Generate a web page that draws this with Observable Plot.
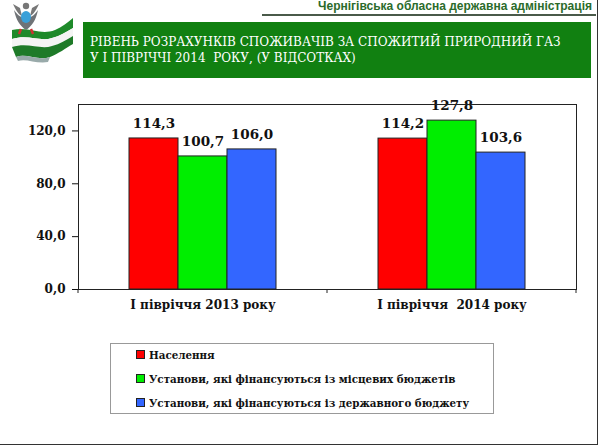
<!DOCTYPE html>
<html><head><meta charset="utf-8">
<script src="https://cdn.jsdelivr.net/npm/d3@7"></script>
<script src="https://cdn.jsdelivr.net/npm/@observablehq/plot@0.6"></script>
<style>
body{margin:0;background:#fff}
#wrap{position:relative;width:600px;height:446px;overflow:hidden;font-family:"DejaVu Serif",serif;background:#fff}
#hdr{position:absolute;right:8px;top:-1px;font-family:"Liberation Sans",Arial,sans-serif;font-weight:bold;font-size:12px;color:#2b6b2b;white-space:nowrap}
#hline{position:absolute;left:262px;top:14px;width:334px;height:2px;background:#4a5a4a}
#logo{position:absolute;left:0;top:0}
#title{position:absolute;left:83px;top:22px;width:508px;height:56px;background:#118011;color:#fff;font-family:"DejaVu Serif",serif;font-size:12px;line-height:16px;box-sizing:border-box;padding:12px 0 0 7px;white-space:nowrap}
#chart{position:absolute;left:0;top:0}
#legend{position:absolute;left:110px;top:343px;width:384px;height:71px;border:1px solid #999;box-sizing:border-box;font-family:"DejaVu Serif",serif;font-weight:bold;font-size:10.3px;color:#111}
.item{position:absolute;left:25px;white-space:nowrap}
.sw{display:inline-block;width:7px;height:7px;border:1px solid #222;margin-right:4px;vertical-align:0px}
#border{position:absolute;left:-2px;top:-2px;width:600px;height:447px;border-right:1.5px solid #333;border-bottom:1.5px solid #333;box-sizing:border-box}
</style></head><body>
<div id="wrap">
  <svg id="logo" width="80" height="80" viewBox="0 0 80 80">
    <path d="M12,30 C30,26 40,36 55,30 C62,27 68,22 73,18 L73,28 C66,32 60,36 52,38 C40,42 28,34 12,39 Z" fill="#1e8a2a"/>
    <path d="M12,39 C28,34 40,42 52,38 C60,36 66,32 73,28 L73,36 C66,40 60,44 52,46 C40,50 28,42 12,47 Z" fill="#f4f4f4"/>
    <path d="M12,47 C28,42 40,50 52,46 C60,44 66,40 73,36 L73,44 C66,48 58,54 50,57 C38,61 26,53 16,57 Z" fill="#1e7a28"/>
    <path d="M16,57 C26,53 38,61 50,57 L48,62 C36,64 26,58 18,61 Z" fill="#9aa"/>
    <path d="M13,4 C16,10 18,14 22,16 L20,8 Z M39,4 C36,10 34,14 30,16 L32,8 Z" fill="#777"/>
    <path d="M14,10 C16,20 20,26 26,30 C32,26 36,20 38,10 C34,16 30,18 26,18 C22,18 18,16 14,10 Z" fill="#6f7377"/>
    <circle cx="26" cy="6" r="3.2" fill="#777"/>
    <ellipse cx="26" cy="17" rx="5" ry="6" fill="#3aa0d8"/>
    <path d="M21,29 L19,34 M31,29 L33,34" stroke="#c33" stroke-width="2.5"/>
  </svg>
  <div id="hdr">Чернігівська обласна державна адміністрація</div>
  <div id="hline"></div>
  <div id="title">РІВЕНЬ РОЗРАХУНКІВ СПОЖИВАЧІВ ЗА СПОЖИТИЙ ПРИРОДНИЙ ГАЗ<br>У І ПІВРІЧЧІ 2014&nbsp; РОКУ, (У ВІДСОТКАХ)</div>
  <div id="chart"></div>
  <div id="legend"></div>
  <div id="border"></div>
</div>
<script>
const periods = ["І півріччя 2013 року", "І півріччя  2014 року"];
const series = [
  "Населення",
  "Установи, які фінансуються із місцевих бюджетів",
  "Установи, які фінансуються із державного бюджету"
];
const values2013 = [114.3, 100.7, 106.0];
const values2014 = [114.2, 127.8, 103.6];
const colors = ["#ff0000", "#00ee00", "#3366ff"];
const yTicks = [0, 40, 80, 120];

const serif = '"DejaVu Serif", serif';
const fmt = v => v.toFixed(1).replace(".", ",");
const rows = [];
series.forEach((s, i) => rows.push({period: periods[0], series: s, value: values2013[i]}));
series.forEach((s, i) => rows.push({period: periods[1], series: s, value: values2014[i]}));

const chart = Plot.plot({
  width: 600,
  height: 446,
  marginLeft: 78,
  marginRight: 24,
  marginTop: 104,
  marginBottom: 157,
  style: {fontFamily: serif, fontWeight: "bold", fontSize: "12px", color: "#111", background: "transparent", overflow: "visible"},
  fx: {domain: periods, padding: 0, label: null, axis: "bottom", tickSize: 0, tickPadding: 11},
  x: {domain: series, paddingInner: 0, paddingOuter: 1, axis: null},
  y: {domain: [0, 140], ticks: yTicks, tickFormat: fmt, tickSize: 6, tickPadding: 7, label: null},
  color: {domain: series, range: colors},
  marks: [
    Plot.barY(rows, {fx: "period", x: "series", y: "value", fill: "series", stroke: "#222", strokeWidth: 1}),
    Plot.text(rows, {fx: "period", x: "series", y: "value", text: d => fmt(d.value), dy: -15, fontSize: 13.5, fontWeight: "bold", fill: "#111", fontFamily: serif}),
    Plot.frame({facet: "super", stroke: "#222", strokeWidth: 1})
  ]
});
document.getElementById("chart").append(chart);

const fxs = chart.scale("fx");
const ys = chart.scale("y");
const svg = d3.select(chart);
const edges = [];
periods.forEach(p => { const a = fxs.apply(p); edges.push(a, a + fxs.bandwidth); });
const uniq = [...new Set(edges.map(e => Math.round(e * 10) / 10))];
svg.append("g").selectAll("line").data(uniq).join("line")
  .attr("x1", d => d).attr("x2", d => d)
  .attr("y1", ys.apply(0)).attr("y2", ys.apply(0) + 4)
  .attr("stroke", "#222");

const legend = d3.select("#legend");
series.forEach((s, i) => {
  const it = legend.append("div").attr("class", "item").style("top", (5 + i * 24) + "px");
  it.append("span").attr("class", "sw").style("background", colors[i]);
  it.append("span").text(s);
});
</script>
</body></html>
